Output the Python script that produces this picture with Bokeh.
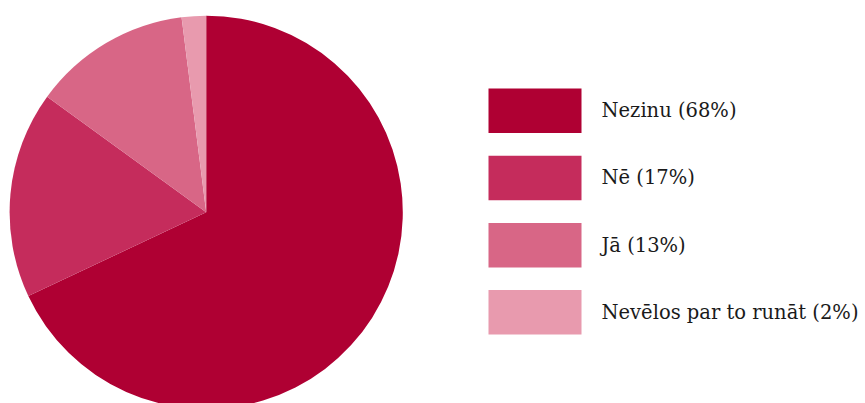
import math
from bokeh.plotting import figure
from bokeh.models import Range1d, ColumnDataSource
from bokeh.core.properties import value
from bokeh.embed import file_html
from bokeh.resources import INLINE

categories = ["Nezinu", "Nē", "Jā", "Nevēlos par to runāt"]
shares = [68, 17, 13, 2]
colors = ["#af0033", "#c52c5c", "#d86686", "#e89aae"]

W, H = 865, 403
p = figure(width=W, height=H, output_backend="svg", toolbar_location=None,
           x_range=Range1d(0, W), y_range=Range1d(0, H),
           x_axis_type=None, y_axis_type=None, min_border=0,
           outline_line_color=None, background_fill_color="white")
p.xgrid.visible = False
p.ygrid.visible = False

total = sum(shares)
cx, cy, r = 205.7, H - 211.8, 196.6
starts, ends = [], []
cum = 0.0
for s in shares:
    starts.append(math.pi / 2 - 2 * math.pi * cum / total)
    cum += s
    ends.append(math.pi / 2 - 2 * math.pi * cum / total)

pie = ColumnDataSource(dict(x=[cx] * len(shares), y=[cy] * len(shares),
                            start=starts, end=ends, color=colors))
p.wedge(x="x", y="y", radius=r, start_angle="start", end_angle="end",
        direction="clock", source=pie, fill_color="color", line_color=None)

# legend (manual)
box_left, box_right, box_h, step, first_top = 488, 581, 44.5, 67.2, 88
tops = [H - (first_top + i * step) for i in range(len(categories))]
leg = ColumnDataSource(dict(
    left=[box_left] * len(categories), right=[box_right] * len(categories),
    top=tops, bottom=[t - box_h for t in tops], color=colors,
    tx=[601] * len(categories), ty=[t - box_h / 2 for t in tops],
    label=[f"{c} ({s}%)" for c, s in zip(categories, shares)]))
p.quad(left="left", right="right", top="top", bottom="bottom",
       fill_color="color", line_color=None, source=leg)
p.text(x="tx", y="ty", text="label", source=leg,
       text_font=value("DejaVu Serif"), text_font_size="19.5px",
       text_baseline="middle", text_align="left", text_color="#1a1a1a")

open("out.html", "w").write(file_html(p, INLINE))
